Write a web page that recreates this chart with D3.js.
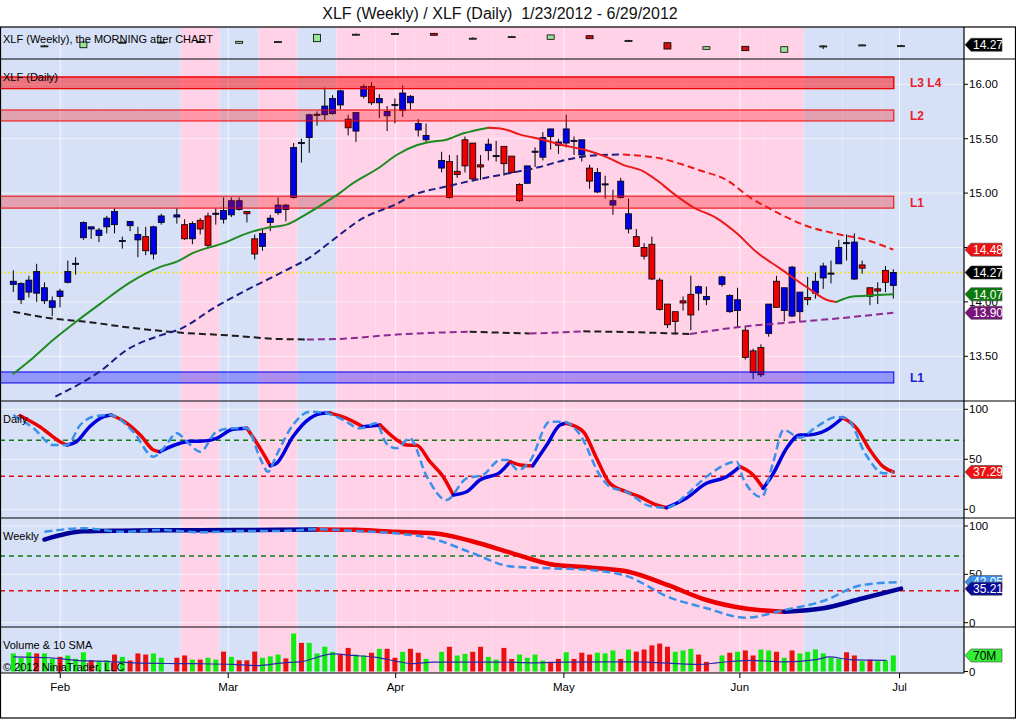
<!DOCTYPE html>
<html>
<head>
<meta charset="utf-8">
<title>XLF Weekly / Daily</title>
<script src="https://cdn.jsdelivr.net/npm/d3@7"></script>
<style>
  body { margin: 0; background: #fff; }
  svg { display: block; }
  text { font-family: Arial, "Liberation Sans", sans-serif; white-space: pre; }
</style>
</head>
<body>
<div id="chart"></div>
<script>
// XLF weekly / daily chart, NinjaTrader look.
// Daily bars sit on weekday slots: slot 0 = Mon 1/23/2012, holidays leave an empty slot.

const title = "XLF (Weekly) / XLF (Daily)  1/23/2012 - 6/29/2012";

const monthLabels = ["Feb", "Mar", "Apr", "May", "Jun", "Jul"];
const monthSlots  = [6.03, 27.6, 49.1, 70.7, 93.3, 113.8];
const priceTicks  = [13.5, 14.0, 14.5, 15.0, 15.5, 16.0];
const stochTicks  = [0, 50, 100];
const stochLevels = [69, 33];

// daily OHLC (null = market holiday)
const opens = [14.16,14.02,14.09,14.08,14.01,13.95,14.05,14.18,14.345,14.59,14.67,14.61,14.69,14.71,14.555,14.70,14.57,14.60,14.44,14.73,null,
  14.78,14.71,14.58,14.75,14.79,14.805,14.76,14.80,14.85,14.83,14.58,14.51,14.73,14.82,14.85,14.96,15.455,15.51,15.715,15.72,15.73,15.81,15.68,15.57,15.89,15.98,15.83,15.71,15.805,15.76,15.83,15.58,15.49,null,
  15.23,15.29,15.20,15.49,15.46,15.26,15.39,15.335,15.43,15.34,15.08,15.09,15.375,15.33,15.52,15.44,15.46,15.475,15.35,15.23,15.01,15.075,14.89,14.96,14.67,14.60,14.50,14.53,14.20,13.98,13.91,14.01,14.07,14.08,14.02,null,
  14.16,13.91,13.92,13.74,13.55,13.58,13.71,14.19,13.92,13.87,13.91,14.04,14.08,14.22,14.255,14.35,14.535,14.21,14.34,14.13,14.12,14.29,14.15];
const highs = [14.29,14.18,14.24,14.35,14.18,14.05,14.12,14.38,14.41,14.74,14.69,14.68,14.79,14.86,14.60,14.74,14.69,14.69,14.70,14.81,null,
  14.86,14.76,14.74,14.77,14.82,14.86,14.96,14.96,14.96,14.83,14.62,14.67,14.80,14.96,14.90,15.46,15.50,15.73,15.75,15.97,15.90,15.95,15.72,15.74,16.00,16.02,15.91,15.80,15.87,15.99,15.90,15.68,15.64,null,
  15.38,15.35,15.35,15.52,15.46,15.35,15.50,15.48,15.43,15.34,15.09,15.25,15.42,15.56,15.59,15.50,15.72,15.52,15.49,15.26,15.23,15.16,15.03,15.14,14.95,14.67,14.54,14.60,14.22,13.98,13.91,14.05,14.24,14.15,14.14,null,
  14.24,14.07,14.13,13.77,13.57,13.61,13.98,14.24,14.13,14.33,14.09,14.23,14.27,14.36,14.38,14.57,14.62,14.63,14.38,14.13,14.18,14.33,14.30];
const lows = [14.09,13.98,14.04,14.00,13.98,13.87,13.95,14.17,14.25,14.57,14.58,14.55,14.63,14.63,14.49,14.65,14.41,14.43,14.39,14.71,null,
  14.72,14.57,14.53,14.62,14.49,14.71,14.72,14.78,14.84,14.73,14.39,14.47,14.65,14.80,14.74,14.95,15.28,15.37,15.62,15.67,15.72,15.77,15.53,15.47,15.87,15.81,15.69,15.57,15.64,15.70,15.77,15.52,15.47,null,
  15.19,14.95,15.14,15.19,15.11,15.12,15.30,15.29,15.16,15.18,14.92,15.09,15.24,15.30,15.40,15.36,15.42,15.35,15.29,15.04,15.00,14.95,14.80,14.95,14.63,14.51,14.39,14.20,13.92,13.76,13.70,13.92,13.74,13.92,13.97,null,
  14.14,13.90,13.77,13.47,13.29,13.31,13.68,13.95,13.82,13.86,13.82,13.97,14.03,14.12,14.17,14.35,14.38,14.20,14.26,13.97,13.98,14.09,14.03];
const closes = [14.19,14.17,14.20,14.28,14.13,14.01,14.10,14.28,14.355,14.73,14.69,14.66,14.77,14.83,14.565,14.74,14.62,14.47,14.69,14.79,null,
  14.80,14.58,14.72,14.67,14.52,14.815,14.84,14.93,14.93,14.81,14.44,14.63,14.77,14.89,14.89,15.42,15.465,15.72,15.725,15.80,15.87,15.94,15.60,15.74,15.98,15.83,15.87,15.75,15.815,15.92,15.89,15.64,15.53,null,
  15.30,14.96,15.17,15.25,15.13,15.24,15.45,15.345,15.27,15.19,14.93,15.25,15.385,15.51,15.59,15.47,15.59,15.485,15.49,15.11,15.19,15.085,14.93,15.11,14.81,14.51,14.42,14.21,13.93,13.79,13.82,13.99,13.88,14.14,14.05,null,
  14.23,14.06,14.02,13.49,13.35,13.33,13.98,13.95,14.13,14.32,14.09,14.02,14.19,14.33,14.265,14.50,14.545,14.55,14.31,14.05,14.10,14.18,14.27];

// daily volume (millions) and bar colour direction (1 up, -1 down)
const volumes = [79,60,84,79,79,57,64,70,55,84,49,45,49,74,64,48,79,74,79,60,null,
  60,70,52,52,60,52,87,64,49,49,87,60,66,74,57,166,125,125,79,108,86,74,103,74,70,82,99,99,60,86,99,82,55,null,
  86,108,70,77,86,108,64,52,
  103,55,74,60,74,48,42,55,84,55,82,74,82,79,92,55,96,87,96,114,122,108,86,92,99,74,42,null,
  70,82,86,92,70,96,92,86,60,92,79,86,96,79,60,55,84,70,45,52,45,49,70];
const volDir = [1,1,1,-1,1,1,-1,1,1,1,-1,1,1,-1,1,-1,-1,-1,1,1,null,
  -1,-1,1,-1,1,1,-1,1,-1,-1,-1,1,1,1,-1,1,-1,1,1,1,1,-1,-1,1,1,-1,1,-1,-1,1,-1,-1,1,null,
  1,-1,1,1,-1,-1,1,1,
  -1,-1,1,1,1,1,-1,-1,1,-1,-1,-1,1,1,1,-1,1,-1,-1,-1,-1,-1,1,1,1,-1,-1,null,
  1,-1,1,-1,-1,1,1,-1,1,-1,1,1,1,1,1,1,-1,-1,1,-1,1,1,1];
const volSma = [[0,64],[4.7,60],[8.1,49],[11.1,45],[15.4,38],[19.7,35],[24,34],[28.2,31],[31.2,26],[34.7,38],[36.8,42],
  [41.1,77],[43.6,70],[46.6,62],[49.6,42],[51.3,34],[53.9,41],[58.2,41],[62.5,41],[66.8,38],[71,41],[79.6,42],
  [88.2,31],[90.3,38],[94.6,49],[98.9,42],[103.1,52],[104.8,64],[107.4,52],[112.1,49]];

// moving averages on the price panel: [slot, price]
const fastMA = [[0,13.34],[2.6,13.49],[5.1,13.65],[8.1,13.82],[11.1,13.98],[15,14.18],[18.8,14.32],[21,14.37],[23.1,14.45],
  [27,14.54],[30,14.63],[32.5,14.68],[35.1,14.71],[37.7,14.81],[40.2,14.92],[41.9,15.0],[43.2,15.07],[47.1,15.24],
  [49.2,15.35],[51.8,15.44],[53.5,15.47],[55.6,15.49],[57.8,15.55],[59,15.57],[61,15.6],[62.9,15.59],[65,15.54],
  [68,15.49],[70.6,15.44],[73.2,15.4],[76.2,15.33],[78.3,15.26],[80.9,15.2],[82.6,15.12],[84.7,15.0],[87.3,14.87],
  [90.3,14.77],[92.9,14.63],[95.4,14.46],[98.4,14.31],[101.8,14.14],[104.8,14.01],[105.7,14.0],[107.8,14.05],
  [110.4,14.06],[113,14.07]];
const slowMA = [[5.4,13.13],[8.6,13.25],[11.1,13.36],[14.6,13.56],[18.8,13.69],[21.4,13.75],[26.1,13.96],[30,14.11],
  [34.7,14.28],[38.1,14.41],[40.7,14.55],[44.9,14.77],[49.2,14.9],[51.3,14.98],[55.6,15.06],[59.9,15.13],[64.2,15.19],
  [67.6,15.24],[70.6,15.3],[73.6,15.34],[75.7,15.35],[78.3,15.355],[80.9,15.34],[83,15.32],[85.6,15.27],[88.1,15.21],
  [91.6,15.12],[94.6,14.96],[97.6,14.84],[101.8,14.7],[106.1,14.62],[109.5,14.57],[113,14.48]];
const longMA = [[0,13.91],[4.7,13.85],[9,13.82],[15.4,13.76],[21,13.72],[28.2,13.69],[33.8,13.66],[37.7,13.655],
  [41.9,13.66],[49.2,13.7],[55.6,13.72],[58.6,13.725],[66.3,13.71],[70.6,13.72],[73.2,13.73],[80.4,13.72],
  [86.9,13.705],[93.3,13.77],[99.7,13.81],[106.1,13.85],[113,13.9]];
const lastPrice = 14.27;

// support / resistance zones
const zoneLow   = [15.96, 15.96, 15.663, 14.862, 13.255];
const zoneHigh  = [16.067, 16.067, 15.764, 14.972, 13.356];
const zoneSup   = [false, false, false, false, true];
const zoneText  = ["", "L3 L4", "L2", "L1", "L1"];

// weekly bars (one per week, Friday slot = 4 + 5*w)
const wOpen  = [14.10,13.86,14.60,14.62,14.69,14.48,14.69,14.70,15.71,15.80,15.86,15.16,15.38,15.03,15.53,14.83,14.56,13.64,14.06,13.23,14.09,14.23,14.13];
const wHigh  = [14.24,14.70,14.72,14.74,14.80,14.78,14.80,15.74,15.84,15.92,15.90,15.30,15.50,15.66,15.56,14.96,14.60,14.04,14.09,14.03,14.20,14.34,14.26];
const wLow   = [13.96,13.84,14.50,14.52,14.60,14.45,14.58,14.68,15.60,15.70,15.55,15.05,15.28,15.00,15.08,14.72,13.65,13.60,13.42,13.20,13.68,14.14,14.04];
const wClose = [14.12,14.66,14.62,14.64,14.71,14.75,14.71,15.72,15.73,15.82,15.59,15.18,15.40,15.63,15.11,14.85,13.68,14.00,13.45,14.00,14.11,14.25,14.15];
const weekShade = ["b","b","b","b","p","b","p","b","p","p","p","p","p","p","p","p","p","p","p","p","b","b","b"];

// stochastics: daily [slot, value], weekly one value per week
const dailyD = [[0.9,93.6],[3.4,82.6],[6,67.6],[6.9,64.3],[8.1,67.6],[9.8,82.6],[11.6,92.6],[12.6,94.3],[14.6,86],[16.3,74.3],
  [18,59.3],[18.8,57.6],[21.4,66],[22.7,68],[24,68],[26.1,71],[28.2,80],[30,81],[31.7,61],[33,43.6],[33.8,46],[35.9,72.6],
  [38.1,91],[39.8,96],[40.7,96.2],[42.8,91],[44.9,82.6],[47.1,84.3],[49.6,67.6],[50.5,64.3],[51.8,64],[53.5,47.6],
  [55.2,32.6],[56.5,14.3],[58.2,17.6],[59.9,29.3],[62.5,37],[63.8,47.6],[65.1,44.3],[66.7,43.5],[68.5,64.3],[70.2,84.3],
  [71,86],[73.2,77.6],[74.9,51],[76.6,26],[78.7,17.6],[80.4,12.6],[82.6,4.3],[83.9,1.6],[86.4,11],[89,26],[91.6,32.6],
  [93.3,42.6],[95,34.3],[96.3,21],[97.6,36],[99.3,61],[101,74.3],[102.3,74.5],[104.4,79.3],[106.5,91.6],[108.3,81],
  [110,59.3],[111.7,42.6],[113,37.3]];
const dailyK = [[0,94.3],[2.6,81],[5.1,64.3],[6.9,64.3],[8.6,84.3],[10.3,92.6],[12.4,94.3],[15.4,77.6],[18,52.6],[19.3,61],
  [21,76],[22.3,67.6],[24,57.6],[26.1,77.6],[28.2,81],[30,81],[31.7,51],[32.7,37.6],[33.8,54.3],[35.9,84.3],[38.1,97.6],
  [40.2,96],[42.4,89.3],[44.5,81],[46.6,86],[47.9,66],[49.2,61],[50.9,71],[53.1,32.6],[55.6,9.3],[58.2,31],[60.3,34.3],
  [62.5,49.3],[63.4,49.3],[64.8,39.3],[66.3,47.6],[68.9,87.6],[70.6,87.6],[72.8,74.3],[75.3,34.3],[76.6,22.6],[78.7,17.6],
  [81.7,3.3],[83.9,1.6],[86.4,14.3],[89,32.6],[92.9,47.6],[93.7,31],[96.1,12.3],[97.6,47.6],[98.9,79.3],[101,71.6],
  [103.1,82.3],[105.7,92.3],[107,91],[109.5,54.3],[111.7,36],[113,37.6]];
const weeklyD = [86,94.5,95.2,95.5,95.6,95.8,96,96.5,96,94,92.5,84,72,60.5,57,52.7,39,23.5,14.7,11.4,14.9,25,35.2];
const weeklyK = [94,97.6,94,95.9,93.5,94.8,94.8,96.6,94.8,92.4,86.6,71.8,58,56.3,54.5,47.6,27,15,5.2,13.1,22.4,39,42];

// ---------- layout ----------
const W = 1016, H = 720;
const plotR = 964, outerR = 1015;
const yTop = 27, stripB = 59, priceB = 401, dailyB = 518, weeklyB = 627, volB = 673, yBottom = 718;

const x = d3.scaleLinear().domain([0, 113]).range([13.3, 893.3]);
const yP = d3.scaleLinear().domain([13.5, 16.0]).range([356.3, 84.3]);
const yW = d3.scaleLinear().domain([13.2, 16.0]).range([52.5, 32.3]);
const yD = d3.scaleLinear().domain([0, 100]).range([509.3, 409.3]);
const yK = d3.scaleLinear().domain([0, 100]).range([622.7, 526]);
const yV = d3.scaleLinear().domain([0, 200]).range([671.5, 625.7]);
const weekSlot = w => 4 + 5 * w;

const svg = d3.select("#chart").append("svg").attr("width", W).attr("height", H);
svg.append("rect").attr("width", W).attr("height", H).attr("fill", "#fff");

const defs = svg.append("defs");
function clip(id, y0, y1) {
  defs.append("clipPath").attr("id", id).append("rect")
    .attr("x", 0).attr("y", y0).attr("width", plotR).attr("height", y1 - y0);
  return svg.append("g").attr("clip-path", `url(#${id})`);
}

// background week shading
const gBg = clip("clipAll", yTop, volB);
gBg.selectAll("rect").data(weekShade).join("rect")
  .attr("x", (d, w) => w === 0 ? 0 : x(weekSlot(w) - 2.5))
  .attr("width", (d, w) => (w === weekShade.length - 1 ? plotR : x(weekSlot(w) + 2.5)) - (w === 0 ? 0 : x(weekSlot(w) - 2.5)))
  .attr("y", yTop).attr("height", volB - yTop)
  .attr("fill", d => d === "p" ? "#ffd2e8" : "#d6e0f6");

// grid
gBg.selectAll("line.vg").data(monthSlots).join("line").attr("class", "vg")
  .attr("x1", d => x(d)).attr("x2", d => x(d)).attr("y1", yTop).attr("y2", volB)
  .attr("stroke", "#fff").attr("stroke-opacity", 0.75);
gBg.selectAll("line.pg").data(priceTicks).join("line").attr("class", "pg")
  .attr("x1", 0).attr("x2", plotR).attr("y1", d => yP(d)).attr("y2", d => yP(d))
  .attr("stroke", "#fff").attr("stroke-opacity", 0.6);
[yD, yK].forEach(s => {
  gBg.append("g").selectAll("line").data(stochTicks).join("line")
    .attr("x1", 0).attr("x2", plotR).attr("y1", d => s(d)).attr("y2", d => s(d))
    .attr("stroke", "#fff").attr("stroke-opacity", 0.6);
});

// ---------- weekly strip ----------
const gS = clip("clipStrip", yTop, stripB);
const weeks = d3.range(wOpen.length);
gS.selectAll("line").data(weeks).join("line")
  .attr("x1", w => x(weekSlot(w))).attr("x2", w => x(weekSlot(w)))
  .attr("y1", w => yW(wHigh[w])).attr("y2", w => yW(wLow[w]))
  .attr("stroke", "#000");
gS.selectAll("rect").data(weeks).join("rect")
  .attr("x", w => x(weekSlot(w)) - 3.5).attr("width", 7)
  .attr("y", w => yW(Math.max(wOpen[w], wClose[w])))
  .attr("height", w => Math.max(1, Math.abs(yW(wOpen[w]) - yW(wClose[w]))))
  .attr("fill", w => wClose[w] >= wOpen[w] ? "#98e698" : "#cc1111")
  .attr("stroke", "#000").attr("stroke-width", 0.8);

// ---------- price panel ----------
const gP = clip("clipPrice", stripB, priceB);
gP.append("line").attr("x1", 0).attr("x2", plotR)
  .attr("y1", yP(lastPrice)).attr("y2", yP(lastPrice))
  .attr("stroke", "#f2e21c").attr("stroke-width", 1.5).attr("stroke-dasharray", "2,2");

const bars = d3.range(opens.length).filter(i => opens[i] != null);
gP.selectAll("line.wick").data(bars).join("line").attr("class", "wick")
  .attr("x1", i => x(i)).attr("x2", i => x(i))
  .attr("y1", i => yP(highs[i])).attr("y2", i => yP(lows[i]))
  .attr("stroke", "#000");
gP.selectAll("rect.body").data(bars).join("rect").attr("class", "body")
  .attr("x", i => x(i) - 3).attr("width", 6)
  .attr("y", i => yP(Math.max(opens[i], closes[i])))
  .attr("height", i => Math.max(1, Math.abs(yP(opens[i]) - yP(closes[i]))))
  .attr("fill", i => closes[i] >= opens[i] ? "#0000e6" : "#ee0000")
  .attr("stroke", "#000").attr("stroke-width", 0.8);

// zones go on top of the candles (translucent)
const zones = d3.range(zoneLow.length);
gP.selectAll("rect.zone").data(zones).join("rect").attr("class", "zone")
  .attr("x", 0).attr("width", x(113) + 0.5)
  .attr("y", i => yP(zoneHigh[i])).attr("height", i => yP(zoneLow[i]) - yP(zoneHigh[i]))
  .attr("fill", i => zoneSup[i] ? "rgba(0,0,255,0.32)" : "rgba(255,0,0,0.28)")
  .attr("stroke", i => zoneSup[i] ? "#0000ee" : "#ee0000").attr("stroke-width", 1);

// coloured line runs: one colour while rising, the other while falling
function runs(pts, up, down) {
  const out = [];
  for (let i = 1; i < pts.length; i++) {
    const c = pts[i][1] >= pts[i - 1][1] ? up : down;
    const last = out[out.length - 1];
    if (last && last.color === c) last.pts.push(pts[i]);
    else out.push({ color: c, pts: [pts[i - 1], pts[i]] });
  }
  return out;
}
function drawRuns(g, pts, ys, up, down, width, dash) {
  const line = d3.line().x(d => x(d[0])).y(d => ys(d[1])).curve(d3.curveMonotoneX);
  runs(pts, up, down).forEach(r => {
    g.append("path").attr("d", line(r.pts)).attr("fill", "none")
      .attr("stroke", r.color).attr("stroke-width", width)
      .attr("stroke-dasharray", dash || null).attr("stroke-linecap", dash ? "butt" : "round");
  });
}

drawRuns(gP, longMA, yP, "#8a2a92", "#1c1c1c", 2, "7,4");
drawRuns(gP, slowMA, yP, "#1c1c80", "#ee1818", 2, "7,4");
drawRuns(gP, fastMA, yP, "#1f8a1f", "#ee1818", 2, null);

// zone labels
svg.selectAll("text.zl").data(zones.filter(i => zoneText[i])).join("text").attr("class", "zl")
  .attr("x", 910).attr("y", i => (yP(zoneHigh[i]) + yP(zoneLow[i])) / 2 + 4.5)
  .attr("font-size", 12).attr("font-weight", "bold")
  .attr("fill", i => zoneSup[i] ? "#2020d0" : "#e8202a")
  .text(i => zoneText[i]);

// ---------- stochastic panels ----------
function levelLines(g, ys) {
  g.selectAll("line.lv").data(stochLevels).join("line").attr("class", "lv")
    .attr("x1", 0).attr("x2", plotR).attr("y1", d => ys(d)).attr("y2", d => ys(d))
    .attr("stroke", (d, i) => i === 0 ? "#137a13" : "#dd1111")
    .attr("stroke-width", 1.5).attr("stroke-dasharray", "5,4");
}
const gD = clip("clipDaily", priceB, dailyB);
levelLines(gD, yD);
drawRuns(gD, dailyD, yD, "#0000dd", "#ee0000", 3.5, null);
gD.append("path").attr("d", d3.line().x(d => x(d[0])).y(d => yD(d[1])).curve(d3.curveMonotoneX)(dailyK))
  .attr("fill", "none").attr("stroke", "#3a90ea").attr("stroke-width", 2.5).attr("stroke-dasharray", "8,4");

const gK = clip("clipWeekly", dailyB, weeklyB);
levelLines(gK, yK);
const wD = weeklyD.map((v, w) => [weekSlot(w), v]);
const wK = weeklyK.map((v, w) => [weekSlot(w), v]);
drawRuns(gK, wD, yK, "#000099", "#ee0000", 4.5, null);
gK.append("path").attr("d", d3.line().x(d => x(d[0])).y(d => yK(d[1])).curve(d3.curveMonotoneX)(wK))
  .attr("fill", "none").attr("stroke", "#3a90ea").attr("stroke-width", 2.5).attr("stroke-dasharray", "8,4");

// ---------- volume ----------
const gV = clip("clipVol", weeklyB, volB);
const vbars = d3.range(volumes.length).filter(i => volumes[i] != null);
gV.selectAll("rect").data(vbars).join("rect")
  .attr("x", i => x(i) - 2.5).attr("width", 5)
  .attr("y", i => yV(volumes[i])).attr("height", i => yV(0) - yV(volumes[i]))
  .attr("fill", i => volDir[i] > 0 ? "#10ec10" : "#ec1010");
gV.append("path").attr("d", d3.line().x(d => x(d[0])).y(d => yV(d[1])).curve(d3.curveMonotoneX)(volSma))
  .attr("fill", "none").attr("stroke", "#2828a8").attr("stroke-width", 1.2);

// ---------- frame ----------
const frame = svg.append("g").attr("stroke", "#000").attr("stroke-width", 1.2);
frame.append("rect").attr("x", 0.5).attr("y", yTop).attr("width", outerR).attr("height", yBottom - yTop).attr("fill", "none");
[stripB, priceB, dailyB, weeklyB].forEach(y =>
  frame.append("line").attr("x1", 0).attr("x2", outerR).attr("y1", y).attr("y2", y));
frame.append("line").attr("x1", 0).attr("x2", plotR).attr("y1", volB).attr("y2", volB);
frame.append("line").attr("x1", plotR).attr("x2", plotR).attr("y1", yTop).attr("y2", volB);

// ---------- axes ----------
const fmt2 = d3.format(".2f");
// tick labels that sit fully under a value flag are not printed (the flag covers them)
function rightAxis(ticks, ys, fmt, hidden) {
  const g = svg.append("g");
  g.selectAll("line").data(ticks).join("line")
    .attr("x1", plotR).attr("x2", plotR + 4).attr("y1", d => ys(d)).attr("y2", d => ys(d))
    .attr("stroke", "#000");
  g.selectAll("text").data(ticks.filter(d => !(hidden || []).includes(d))).join("text")
    .attr("x", plotR + 5).attr("y", d => ys(d) + 4).attr("font-size", 11.5).attr("fill", "#000")
    .text(fmt);
}
rightAxis(priceTicks, yP, fmt2, [14.5]);
rightAxis(stochTicks, yD, d => d);
rightAxis(stochTicks, yK, d => d);
rightAxis([0], yV, d => d);

const gx = svg.append("g");
gx.selectAll("line").data(monthSlots).join("line")
  .attr("x1", d => x(d)).attr("x2", d => x(d)).attr("y1", volB).attr("y2", volB + 5)
  .attr("stroke", "#000");
gx.selectAll("text").data(monthLabels).join("text")
  .attr("x", (d, i) => x(monthSlots[i])).attr("y", 691).attr("text-anchor", "middle")
  .attr("font-size", 11.5).text(d => d);

// value flags on the right axis
function flag(y, label, fill, color) {
  svg.append("path")
    .attr("d", `M965,${y} L971,${y - 6.5} L1002,${y - 6.5} L1002,${y + 6.5} L971,${y + 6.5} Z`)
    .attr("fill", fill).attr("stroke", "#444").attr("stroke-width", 0.6);
  svg.append("text").attr("x", 973).attr("y", y + 4.3).attr("font-size", 12)
    .attr("fill", color).text(label);
}
const lastD = dailyD[dailyD.length - 1][1];
flag(yW(lastPrice), fmt2(lastPrice), "#000", "#fff");
flag(yP(slowMA[slowMA.length - 1][1]), fmt2(slowMA[slowMA.length - 1][1]), "#ee1111", "#fff");
flag(yP(lastPrice), fmt2(lastPrice), "#000", "#fff");
flag(yP(fastMA[fastMA.length - 1][1]), fmt2(fastMA[fastMA.length - 1][1]), "#0a7a0a", "#fff");
flag(yP(longMA[longMA.length - 1][1]), fmt2(longMA[longMA.length - 1][1]), "#7a147a", "#fff");
flag(yD(lastD), "37.29", "#ee1111", "#fff");
flag(yK(weeklyK[weeklyK.length - 1]), "42.05", "#3a90ea", "#fff");
flag(yK(weeklyD[weeklyD.length - 1]), "35.21", "#0a0a99", "#fff");
flag(yV(volumes[volumes.length - 1]), volumes[volumes.length - 1] + "M", "#33ee33", "#000");

// ---------- labels ----------
svg.append("text").attr("x", 500).attr("y", 19).attr("text-anchor", "middle")
  .attr("font-size", 16).attr("fill", "#111").text(title);
const panelLabels = [
  ["XLF (Weekly), the MORNING after CHART", 43],
  ["XLF (Daily)", 81],
  ["Daily", 423],
  ["Weekly", 540],
  ["Volume & 10 SMA", 649],
  ["\u00a9 2012 NinjaTrader, LLC", 671]
];
svg.selectAll("text.pl").data(panelLabels).join("text").attr("class", "pl")
  .attr("x", 3).attr("y", d => d[1]).attr("font-size", 11).attr("fill", "#000")
  .text(d => d[0]);
</script>
</body>
</html>
